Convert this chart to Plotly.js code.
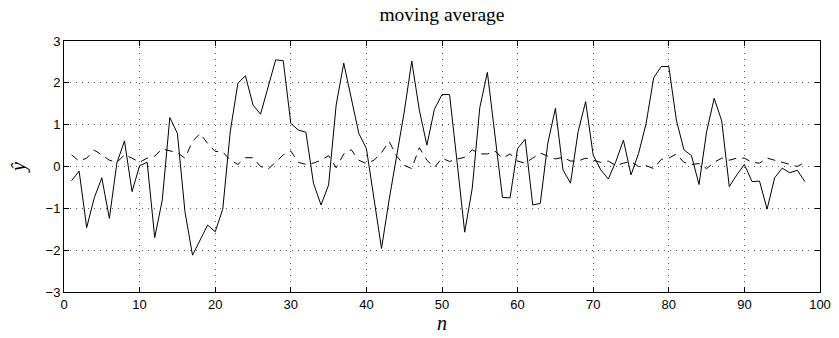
<!DOCTYPE html>
<html>
<head>
<meta charset="utf-8">
<script src="https://cdn.plot.ly/plotly-3.0.1.min.js"></script>
<style>html,body{margin:0;padding:0;background:#fff;}#chart{width:839px;height:338px;}</style>
</head>
<body>
<div id="chart"></div>
<script>
const n = [];
for (let i = 1; i <= 98; i++) n.push(i);

const yhatSolid = [
  -0.34, -0.11, -1.46, -0.75, -0.27, -1.24, 0.09, 0.61, -0.60, 0.02,
  0.10, -1.70, -0.80, 1.17, 0.79, -1.08, -2.12, -1.75, -1.40, -1.56,
  -1.02, 0.85, 1.99, 2.17, 1.47, 1.25, 1.87, 2.55, 2.53, 1.03,
  0.87, 0.82, -0.40, -0.92, -0.44, 1.47, 2.47, 1.60, 0.79, 0.43,
  -0.76, -1.96, -0.80, 0.30, 1.30, 2.52, 1.35, 0.51, 1.37, 1.72,
  1.72, 0.10, -1.57, -0.52, 1.41, 2.25, 0.75, -0.74, -0.75, 0.43,
  0.65, -0.92, -0.88, 0.56, 1.39, -0.08, -0.40, 0.83, 1.55, 0.27,
  -0.08, -0.30, 0.12, 0.63, -0.20, 0.31, 1.03, 2.12, 2.39, 2.39,
  1.11, 0.40, 0.26, -0.43, 0.83, 1.63, 1.09, -0.48, -0.20, 0.05,
  -0.36, -0.35, -1.02, -0.27, -0.04, -0.15, -0.09, -0.36
];

const yhatDashed = [
  0.28, 0.13, 0.20, 0.39, 0.28, 0.15, 0.10, 0.28, 0.20, 0.10,
  0.20, 0.25, 0.42, 0.37, 0.33, 0.20, 0.60, 0.79, 0.55, 0.36,
  0.35, 0.15, 0.05, 0.21, 0.21, 0.00, -0.06, 0.10, 0.28, 0.37,
  0.10, 0.05, 0.08, 0.15, 0.26, -0.03, 0.30, 0.40, 0.15, 0.07,
  0.15, 0.33, 0.60, 0.25, 0.03, -0.05, 0.45, 0.15, -0.02, 0.20,
  0.12, 0.18, 0.22, 0.40, 0.30, 0.30, 0.37, 0.20, 0.30, 0.13,
  0.08, 0.20, 0.32, 0.25, 0.18, 0.22, 0.13, 0.13, 0.20, 0.15,
  0.10, 0.13, 0.02, 0.08, 0.12, 0.00, 0.02, -0.05, 0.17, 0.20,
  0.30, 0.10, 0.05, 0.07, -0.05, 0.10, 0.20, 0.15, 0.20, 0.20,
  0.10, 0.08, 0.20, 0.15, 0.10, 0.05, 0.00, 0.10
];

const xTicks = [0, 10, 20, 30, 40, 50, 60, 70, 80, 90, 100];
const yTicks = [-3, -2, -1, 0, 1, 2, 3];

const traces = [
  {x: n, y: yhatSolid, type: 'scatter', mode: 'lines',
   line: {color: '#000', width: 1}, hoverinfo: 'skip'},
  {x: n, y: yhatDashed, type: 'scatter', mode: 'lines',
   line: {color: '#000', width: 1, dash: '8px,6px'}, hoverinfo: 'skip'}
];

const axisCommon = {
  showline: true, linecolor: '#000', linewidth: 1, mirror: 'ticks',
  ticks: 'inside', ticklen: 5, tickcolor: '#000', tickwidth: 1,
  showgrid: true, gridcolor: '#555', gridwidth: 1, griddash: '1px,5px',
  zeroline: false,
  tickfont: {family: 'Liberation Sans, Arial, sans-serif', size: 13, color: '#000'}
};

const layout = {
  width: 839, height: 338,
  margin: {l: 64, r: 19, t: 41, b: 46},
  paper_bgcolor: '#fff', plot_bgcolor: '#fff',
  showlegend: false,
  title: {text: 'moving average', x: 0.5, xanchor: 'center', xref: 'paper',
          y: 1, yref: 'container', yanchor: 'top', pad: {t: 7},
          font: {family: 'Liberation Serif, Times New Roman, serif', size: 19.5, color: '#000'}},
  xaxis: Object.assign({}, axisCommon, {
    range: [0, 100], tickvals: xTicks, ticktext: xTicks.map(String),
    title: {text: '<i>n</i>', standoff: 0,
            font: {family: 'Liberation Serif, Times New Roman, serif', size: 20, color: '#000'}}
  }),
  yaxis: Object.assign({}, axisCommon, {
    range: [-3, 3], tickvals: yTicks, ticktext: yTicks.map(v => v < 0 ? '\u2212' + Math.abs(v) : String(v)),
    title: {text: '<i>ŷ</i>', standoff: 14,
            font: {family: 'Liberation Serif, Times New Roman, serif', size: 20, color: '#000'}}
  })
};

Plotly.newPlot('chart', traces, layout, {staticPlot: true, displayModeBar: false});
</script>
</body>
</html>
